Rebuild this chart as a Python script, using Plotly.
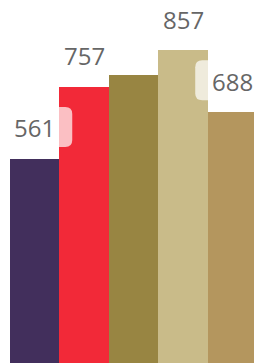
import plotly.graph_objects as go

categories = ["A", "B", "C", "D", "E"]
values = [561, 757, 790, 857, 688]
colors = ["#422F5C", "#F22938", "#988542", "#C9BB89", "#B4965E"]
label_visible = [True, True, False, True, True]

xs = list(range(len(categories)))

fig = go.Figure()
fig.add_trace(go.Bar(
    x=xs, y=values, marker=dict(color=colors, line=dict(width=0)),
    width=1.0, hoverinfo="skip", showlegend=False,
))

def rounded_path(x0, y0, x1, y1, r):
    return (f"M {x0+r},{y0} L {x1-r},{y0} Q {x1},{y0} {x1},{y0+r} "
            f"L {x1},{y1-r} Q {x1},{y1} {x1-r},{y1} L {x0+r},{y1} "
            f"Q {x0},{y1} {x0},{y1-r} L {x0},{y0+r} Q {x0},{y0} {x0+r},{y0} Z")

shapes = []
annotations = []
for i, v in enumerate(values):
    if not label_visible[i]:
        continue
    shapes.append(dict(
        type="path", xref="x", yref="y", xsizemode="pixel", ysizemode="pixel",
        xanchor=xs[i], yanchor=v,
        path=rounded_path(-37.5, 12, 37.5, 52, 7),
        fillcolor="rgba(255,255,255,0.7)", line=dict(width=0), layer="above",
    ))
    annotations.append(dict(
        x=xs[i], y=v, xref="x", yref="y", text=str(v), showarrow=False,
        yanchor="middle", xanchor="center", yshift=31,
        font=dict(family="Open Sans", size=24, color="#666666"),
    ))

fig.update_layout(
    width=254, height=363,
    margin=dict(l=10, r=0, t=0, b=0),
    paper_bgcolor="white", plot_bgcolor="white",
    bargap=0,
    xaxis=dict(range=[-0.5, 4.43], visible=False, fixedrange=True),
    yaxis=dict(range=[5, 994], visible=False, fixedrange=True),
    shapes=shapes, annotations=annotations,
)

fig.write_html("out.html", config={"displayModeBar": False},
               post_script="document.body.style.margin='0';document.body.style.overflow='hidden';")
